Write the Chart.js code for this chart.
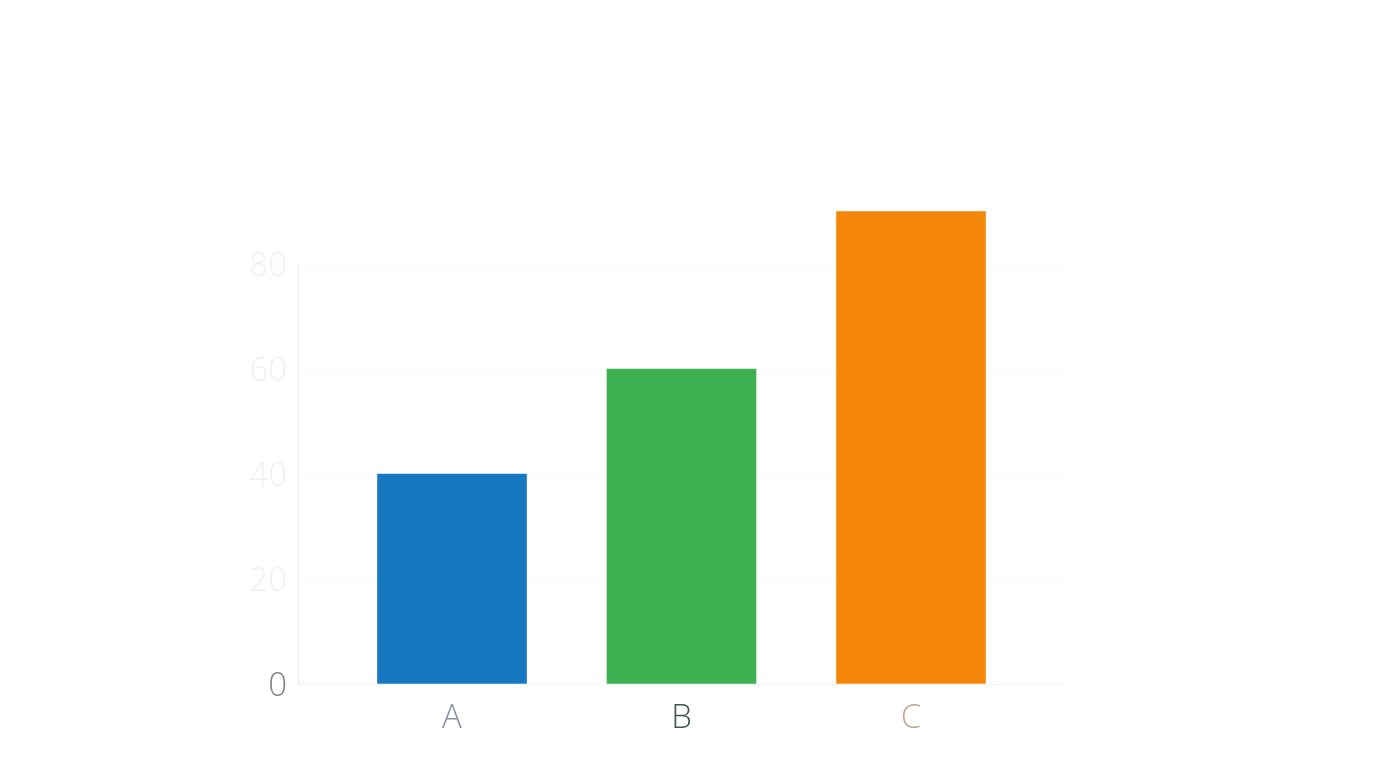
<!DOCTYPE html>
<html>
<head>
<meta charset="utf-8">
<script src="https://cdn.jsdelivr.net/npm/chart.js@4"></script>
<style>
  html, body { margin: 0; padding: 0; background: #ffffff; }
  #wrap { width: 1376px; height: 768px; }
</style>
</head>
<body>
<div id="wrap"><canvas id="c" width="1376" height="768"></canvas></div>
<script>
const categories = ['A', 'B', 'C'];
const values = [40, 60, 90];
const barColors = ['#1778c2', '#3db052', '#f4870a'];
const yTicks = [0, 20, 40, 60, 80];
const xLabelColors = ['#8a90a8', '#3d5a45', '#c9a49a'];

const ctx = document.getElementById('c').getContext('2d');
new Chart(ctx, {
  type: 'bar',
  data: {
    datasets: [{
      data: values.map((v, i) => ({ x: i, y: v })),
      backgroundColor: barColors,
      borderWidth: 0,
      barThickness: 149,
      clip: false
    }]
  },
  options: {
    responsive: false,
    animation: false,
    devicePixelRatio: 1,
    layout: { padding: { top: 264, right: 311, left: 0, bottom: 0 } },
    plugins: { legend: { display: false }, tooltip: { enabled: false } },
    scales: {
      x: {
        type: 'linear',
        offset: false,
        bounds: 'data',
        min: -0.671,
        max: 2.671,
        afterFit: s => { s.height = 84; },
        afterBuildTicks: s => { s.ticks = categories.map((c, i) => ({ value: i })); },
        grid: { display: false, drawTicks: false, offset: false },
        border: { display: true, color: '#f1f4f7', width: 1 },
        ticks: {
          padding: 15,
          maxRotation: 0,
          autoSkip: false,
          callback: v => categories[Math.round(v)] ?? '',
          color: c => xLabelColors[Math.round(c.tick.value)] || '#888',
          font: { family: 'Open Sans', size: 33, weight: 300 }
        }
      },
      y: {
        min: 0,
        max: 80,
        afterFit: s => { s.width = 298; },
        afterBuildTicks: s => { s.ticks = yTicks.map(v => ({ value: v })); },
        grid: { color: '#fafbfc', drawTicks: false },
        border: { display: true, color: '#e6edf3', width: 1 },
        ticks: {
          padding: 11,
          labelOffset: 3,
          color: c => c.tick.value === 0 ? '#7f8388' : '#eef1f4',
          font: { family: 'Open Sans', size: 33, weight: 300 }
        }
      }
    }
  }
});
</script>
</body>
</html>
